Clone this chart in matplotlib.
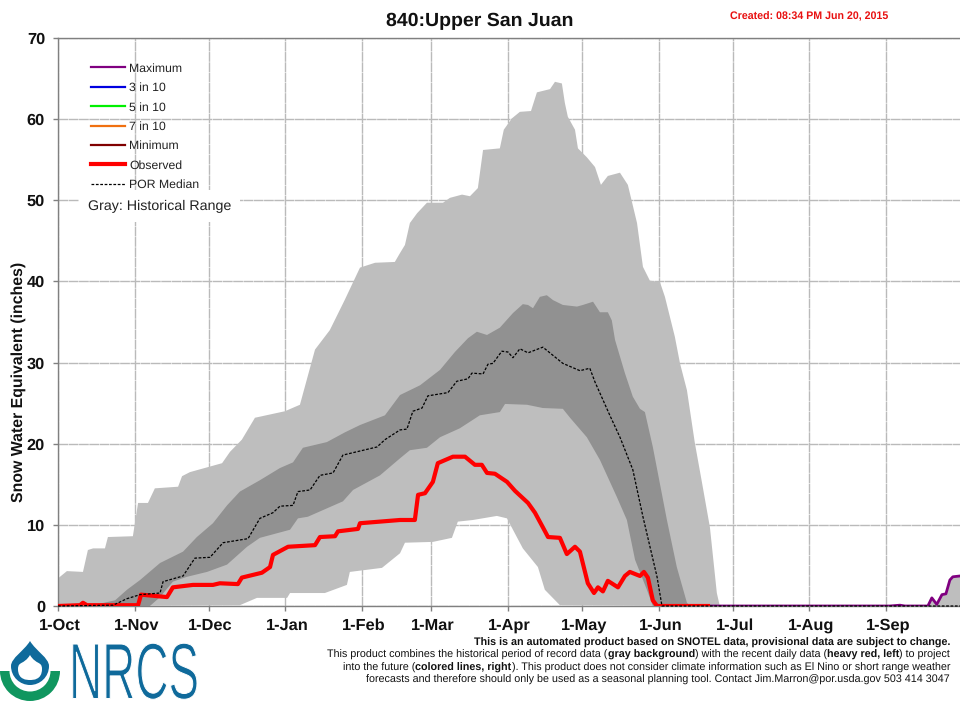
"""SNOTEL snow water equivalent chart for site 840: Upper San Juan."""
import numpy as np
import matplotlib
matplotlib.use("Agg")
import matplotlib.pyplot as plt
from matplotlib.lines import Line2D
from matplotlib.patches import PathPatch, Wedge
from matplotlib.path import Path
from matplotlib.patheffects import AbstractPathEffect
from matplotlib.transforms import Affine2D, ScaledTranslation

plt.rcParams["font.family"] = ["Liberation Sans", "DejaVu Sans"]
plt.rcParams["text.hinting"] = "no_hinting"

# --- Data (day of water year, inches) ---------------------------------------
month_days = [0, 31, 61, 92, 123, 151, 182, 212, 243, 273, 304, 335]
month_labels = ["1-Oct", "1-Nov", "1-Dec", "1-Jan", "1-Feb", "1-Mar", "1-Apr",
                "1-May", "1-Jun", "1-Jul", "1-Aug", "1-Sep"]
y_ticks = [0, 10, 20, 30, 40, 50, 60, 70]

hist_max_days = [0, 3.6, 10.1, 12.1, 14.2, 19, 20.2, 30.3, 32.4, 36.4, 39.2, 48.6,
                 50.2, 53.4, 66.4, 69.6, 74.4, 79.7, 91.8, 97.9, 104, 110, 116,
                 122.2, 128.3, 136.3, 138.4, 140.4, 142.4, 145.3, 149.3, 155.8,
                 158.6, 163.5, 166.7, 169.9, 172, 178.8, 180.4, 183.7, 186.9,
                 191.4, 193.8, 199.1, 201.1, 203.9, 205.1, 206.3, 209.2, 210.4,
                 214, 217.3, 219.7, 222.5, 227.4, 230.6, 234.3, 236.7, 239.5,
                 243.6, 245.6, 249.6, 251.7, 254.5, 257.7, 260.6, 263.8, 266.6,
                 267.8]
hist_max = [3.4, 4.3, 4.2, 6.9, 7.1, 7.1, 8.5, 8.6, 12.7, 12.7, 14.5, 14.7,
            16.0, 16.5, 17.6, 19.0, 20.5, 23.2, 24.0, 24.8, 31.6, 34.0, 37.7,
            41.7, 42.3, 42.4, 43.5, 44.5, 47.2, 48.4, 49.7, 49.7,
            50.3, 50.7, 50.5, 51.5, 56.2, 56.4, 58.7, 60.1, 60.9,
            61.0, 63.3, 63.7, 64.6, 64.4, 62.0, 60.3, 58.7, 56.4,
            55.3, 54.1, 51.9, 53.0, 53.4, 51.9, 47.2, 41.8, 40.1,
            39.9, 38.1, 33.2, 29.9, 26.6, 20.1, 15.2, 9.7, 1.6, 0]

hist_min_days = [0, 73.6, 80.5, 92.7, 93.9, 108, 116.9, 118.1, 131.1, 138.4, 140.4,
                 151.7, 159.4, 161.8, 167.9, 177.6, 181.7, 184.1, 188.1, 194.2,
                 197, 203.1, 267.8]
hist_min = [0, 0.1, 1.0, 1.0, 1.6, 1.6, 2.6, 4.2, 4.7, 6.5, 7.8,
            7.9, 8.4, 10.4, 10.6, 11.1, 10.8, 9.4, 7.1, 4.8,
            2.0, 0.1, 0]

iqr_high_days = [14.2, 23.1, 27.9, 33.2, 41.3, 50.6, 56.2, 62.7, 68.4, 73.6, 81.7,
                 89.8, 95.1, 99.1, 108.8, 116.1, 122.2, 132.3, 138.4, 146.5,
                 154.6, 160.6, 165.9, 169.5, 173.6, 178.8, 184.1, 188.1, 190.2,
                 192.2, 195, 197.8, 200.3, 204.3, 210, 212.4, 216.5, 219.3, 222.5,
                 224.1, 225.4, 229.4, 232.6, 235.5, 237.5, 240.7, 246.4, 250.4,
                 254.5, 255.7]
iqr_high = [0.1, 0.7, 2.0, 3.2, 5.3, 6.7, 8.5, 10.2, 12.4, 14.1, 15.5,
            17.0, 17.7, 19.5, 20.2, 21.4, 22.3, 23.5, 26.0, 27.2,
            29.1, 31.3, 33.0, 33.8, 33.4, 34.3, 36.1, 37.2, 37.1,
            36.7, 38.1, 38.3, 37.7, 37.1, 36.9, 37.1, 37.5, 36.2, 36.2,
            35.2, 32.8, 28.7, 25.8, 24.3, 23.9, 19.6, 10.6, 4.8,
            0.4, 0]

iqr_low_days = [14.2, 37.2, 41.3, 46.5, 52.2, 60.3, 68.4, 76.5, 81.7, 93.9, 97.1,
                101.1, 115.3, 119.4, 130.3, 138.4, 142.4, 149.3, 154.6, 162.6,
                170.7, 178.8, 180.9, 189.8, 196.2, 204.3, 207.2, 214, 219.3,
                226.2, 230.2, 233.5, 238.3, 240.7, 255.7]
iqr_low = [0, 0, 1.1, 3.0, 3.6, 4.2, 5.1, 7.3, 8.4, 9.4, 10.8,
           11.0, 12.9, 14.3, 16.1, 18.2, 19.2, 19.5, 20.8, 21.9,
           23.5, 23.9, 24.9, 24.8, 24.4, 24.3, 23.2, 20.8, 18.0,
           13.4, 10.6, 5.7, 2.0, 0, 0]

median_days = [0, 22.3, 27.9, 33.2, 41.3, 42.5, 50.6, 55.4, 61.5, 66.8, 76.9, 81.7,
               87, 89.8, 95.1, 97.1, 102, 106, 111.3, 115.3, 129.1, 132.3, 138.4,
               141.2, 143.6, 147.3, 149.7, 157.8, 161.4, 165.9, 167.5, 172, 174,
               176, 179.6, 182.1, 184.1, 186.9, 190.2, 196.2, 204.3, 211.2, 215.2,
               217.3, 223.3, 227.4, 232.6, 236.7, 242.4, 244.4, 365]
median = [0, 0.1, 0.9, 1.4, 1.6, 3.0, 3.7, 5.9, 6.0, 7.8, 8.3, 10.8,
          11.5, 12.3, 12.4, 14.1, 14.3, 16.1, 16.4, 18.6, 19.6, 20.5, 21.7,
          21.8, 24.0, 24.4, 25.9, 26.3, 27.7, 28.0, 28.7, 28.6, 29.8,
          29.9, 31.4, 31.3, 30.6, 31.7, 31.2, 31.9, 29.9, 29.0, 29.3,
          27.6, 23.5, 20.8, 16.8, 11.0, 3.6, 0, 0]

observed_days = [0, 8.9, 10.1, 11.7, 32.4, 33.6, 44.1, 46.5, 54.6, 62.7, 65.5, 72.8,
                 74.4, 82.5, 85.8, 87, 93.1, 104, 106, 112.1, 113.3, 121.4, 122.2,
                 130.3, 138.4, 144.4, 145.7, 148.5, 151.7, 153.7, 159.8, 164.7,
                 168.7, 171.5, 173.6, 176.8, 181.7, 184.9, 190.2, 193, 196.2, 198.3,
                 203.1, 205.9, 209.2, 211.2, 214.4, 216.9, 218.5, 220.5, 222.5,
                 226.6, 229.4, 231.4, 235.5, 237.1, 238.7, 240.7, 242.4, 263]
observed = [0, 0.1, 0.4, 0.1, 0.1, 1.4, 1.1, 2.3, 2.6, 2.6, 2.8, 2.7,
            3.5, 4.1, 4.8, 6.3, 7.3, 7.5, 8.5, 8.6, 9.2, 9.5, 10.2,
            10.4, 10.6, 10.6, 13.7, 13.9, 15.3, 17.6, 18.4, 18.4,
            17.4, 17.4, 16.4, 16.3, 15.3, 14.2, 12.7, 11.5, 9.7, 8.5,
            8.4, 6.4, 7.3, 6.7, 2.8, 1.6, 2.3, 1.8, 3.1,
            2.3, 3.7, 4.2, 3.7, 4.2, 3.5, 0.7, 0, 0]

forecast_max_days = [263, 336.6, 340.7, 342.7, 352, 353.6, 355.6, 357.7, 359.3, 360.9,
                     362.1, 365]
forecast_max = [0, 0, 0.1, 0, 0, 1.0, 0.2, 1.4, 1.5, 3.2, 3.6, 3.7]

legend_names = ["Maximum", "3 in 10", "5 in 10", "7 in 10", "Minimum",
                "Observed", "POR Median"]
legend_colors = ["#800080", "#0000E0", "#00F000", "#F07010", "#800000",
                 "#FF0000", "black"]
footer_lines = [
    [("This is an automated product based on SNOTEL data, provisional data are "
      "subject to change.", True)],
    [("This product combines the historical period of record data (", False),
     ("gray background", True), (") with the recent daily data (", False),
     ("heavy red, left", True), (") to project", False)],
    [("into the future (", False), ("colored lines, right", True),
     ("). This product does not consider climate information such as El Nino "
      "or short range weather", False)],
    [("forecasts and therefore should only be used as a seasonal planning tool. "
      "Contact Jim.Marron@por.usda.gov 503 414 3047", False)],
]

W, H = 960, 714
LIGHT, DARK, TXT = "#BEBEBE", "#919191", "#111111"
BLUE = "#0F6A9B"


class Squeeze(AbstractPathEffect):
    """Narrow and thin the glyphs about display x0 (logo lettering)."""

    def __init__(self, x0, sx, thin):
        self._squeeze = Affine2D().translate(-x0, 0).scale(sx, 1).translate(x0, 0)
        self._thin = thin

    def draw_path(self, renderer, gc, tpath, affine, rgbFace=None):
        aff = affine + self._squeeze
        renderer.draw_path(gc, tpath, aff, rgbFace)
        gc0 = renderer.new_gc()
        gc0.copy_properties(gc)
        gc0.set_linewidth(self._thin)
        gc0.set_foreground("white")
        renderer.draw_path(gc0, tpath, aff, None)
        gc0.restore()


def right_aligned(fig, x_px, y_px, parts, size):
    """Right-align a line of mixed regular/bold runs, placed back to front."""
    rend = fig.canvas.get_renderer()
    x = x_px
    for s, bold in reversed(parts):
        t = fig.text(x / W, 1 - y_px / H, s, ha="right", va="center", fontsize=size,
                     fontweight="bold" if bold else "normal", color=TXT)
        x -= t.get_window_extent(rend).width


def drop_path(top, left, right, wide_y, bottom, xc=30):
    codes = [Path.MOVETO] + [Path.CURVE4] * 12
    verts = [(xc, top),
             (xc - 6, top + 10), (left, wide_y - 8), (left, wide_y),
             (left, wide_y + 11), (left + 9, bottom), (xc, bottom),
             (right - 9, bottom), (right, wide_y + 11), (right, wide_y),
             (right, wide_y - 8), (xc + 6, top + 10), (xc, top)]
    return Path(verts, codes)


def draw_logo(fig):
    ov = fig.add_axes([0, 0, 1, 1], zorder=5)
    ov.set_xlim(0, W); ov.set_ylim(H, 0); ov.axis("off")
    ov.add_patch(PathPatch(drop_path(641, 11, 49, 666, 685), fc=BLUE, ec="none"))
    ov.add_patch(PathPatch(drop_path(655, 18, 42, 669, 680), fc="white", ec="none"))
    ov.add_patch(Wedge((30, 671), 30, 0, 180, width=9.5, fc="#10965F", ec="none"))
    ov.text(69, 698.5, "NRCS", fontsize=57, color=BLUE, va="baseline", ha="left",
            path_effects=[Squeeze(69, 0.58, 0.7)])


def main():
    fig = plt.figure(figsize=(W / 100, H / 100), dpi=100)
    ax = fig.add_axes([58 / W, (H - 606) / H, (W - 58) / W, 568 / H])
    ax.set_xlim(0, 365)
    ax.set_ylim(0, 70)

    ax.set_axisbelow(True)
    ax.grid(color="#BABABA", lw=1.0, ls=(0, (7, 0.4)))
    ax.spines["right"].set_visible(False)
    for side in ("left", "bottom", "top"):
        ax.spines[side].set_color("#808080")
        ax.spines[side].set_linewidth(1.0)

    # historical range bands
    ax.fill(np.r_[hist_max_days, hist_min_days[::-1]], np.r_[hist_max, hist_min[::-1]],
            color=LIGHT, lw=0, zorder=2)
    ax.fill_between(forecast_max_days, 0, forecast_max, color=LIGHT, lw=0, zorder=2)
    ax.fill(np.r_[iqr_high_days, iqr_low_days[::-1]], np.r_[iqr_high, iqr_low[::-1]],
            color=DARK, lw=0, zorder=3)

    ax.plot(forecast_max_days, forecast_max, color="#800080", lw=2, zorder=4,
            solid_joinstyle="round")
    ax.plot(median_days, median, color="black", lw=0.9, ls=(0, (2.2, 1.3)), zorder=6,
            clip_on=False)
    ax.plot(observed_days, observed, color="#FF0000", lw=3.0, zorder=5,
            solid_joinstyle="round")

    ax.set_xticks(month_days)
    ax.set_xticklabels(month_labels, fontsize=11.8, fontweight="bold", color=TXT)
    ax.set_yticks(y_ticks)
    ax.set_yticklabels([str(v) for v in y_ticks], fontsize=11.8, fontweight="bold",
                       color=TXT)
    ax.tick_params(axis="both", length=3.3, width=1, color="#808080")
    ax.tick_params(axis="x", pad=5.5)
    ax.tick_params(axis="y", pad=6)
    shift = ScaledTranslation(2 / 100, 0, fig.dpi_scale_trans)
    for lab in ax.get_xticklabels():
        lab.set_transform(lab.get_transform() + shift)
    fig.text(19 / W, 1 - 382 / H, "Snow Water Equivalent (inches)", rotation=90,
             ha="center", va="center", fontsize=11.4, fontweight="bold", color=TXT)

    handles = [Line2D([], [], color=c, lw=1.6) for c in legend_colors]
    handles[5] = Line2D([], [], color="#FF0000", lw=3.0)
    handles[6] = Line2D([], [], color="black", lw=0.9, ls=(0, (2.2, 1.3)))
    leg = ax.legend(handles, legend_names, loc="upper left",
                    bbox_to_anchor=(33 / 902, 1 - 25 / 568), frameon=False,
                    fontsize=8.8, handlelength=2.8, handletextpad=0.33,
                    labelspacing=0.67, borderpad=0, borderaxespad=0)
    for t in leg.get_texts():
        t.set_color("#222222")
    leg.set_zorder(8)
    fig.text(159.5 / W, 1 - 206 / H, "Gray: Historical Range", ha="center", va="center",
             fontsize=10.3, color="#222222", zorder=9,
             bbox=dict(fc="white", ec="none", pad=6.5))

    fig.text(480 / W, 1 - 21 / H, "840:Upper San Juan", ha="center", va="center",
             fontsize=14, fontweight="bold", color=TXT)
    fig.text(809.5 / W, 1 - 16 / H, "Created: 08:34 PM Jun 20, 2015", ha="center",
             va="center", fontsize=7.7, fontweight="bold", color="#E81010")

    fig.canvas.draw()
    for y_px, parts in zip([643, 655, 668, 680], footer_lines):
        right_aligned(fig, 950, y_px, parts, 7.76)
    draw_logo(fig)

    fig.savefig("out.png", dpi=100)
    plt.close(fig)


if __name__ == "__main__":
    main()
